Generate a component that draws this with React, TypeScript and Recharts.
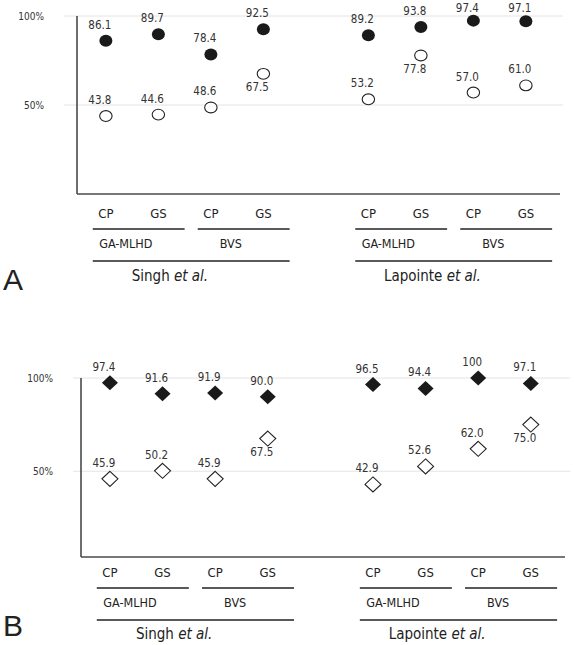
import React from "react";
import {
  ScatterChart,
  Scatter,
  XAxis,
  YAxis,
  ReferenceLine,
  ReferenceDot,
} from "recharts";

// study / method / measure hierarchy along the x axis
const studies = ["Singh", "Lapointe"];
const methods = ["GA-MLHD", "BVS"];
const measures = ["CP", "GS"];

// panel A (circles)
const panelAFilled = [86.1, 89.7, 78.4, 92.5, 89.2, 93.8, 97.4, 97.1];
const panelAOpen = [43.8, 44.6, 48.6, 67.5, 53.2, 77.8, 57.0, 61.0];

// panel B (diamonds)
const panelBFilled = [97.4, 91.6, 91.9, 90.0, 96.5, 94.4, 100, 97.1];
const panelBOpen = [45.9, 50.2, 45.9, 67.5, 42.9, 52.6, 62.0, 75.0];

const yTicks = [50, 100];

const FONT = "'DejaVu Sans Condensed', 'DejaVu Sans', sans-serif";
const INK = "#222";
const AXIS = "#4a4a4a";
const GRID = "#e4e4e4";
const X_AXIS_H = 30;

const perStudy = methods.length * measures.length;
// one empty slot between the two studies
const slotOf = (i: number) => i + 1 + Math.floor(i / perStudy);

const fmt = (v: number) => (v === 100 ? "100" : v.toFixed(1));

type Kind = "circle" | "diamond";

const makeShape = (kind: Kind, filled: boolean) => (props: any) => {
  const { cx, cy, payload } = props;
  if (cx == null || cy == null) return null;
  // open marker label goes below when it sits close to the filled one
  const below = !filled && payload.other - payload.y < 28;
  const ty = below ? cy + 17 : Math.max(cy - 12, 12);
  let mark;
  if (kind === "circle") {
    mark = filled ? (
      <ellipse cx={cx} cy={cy} rx={6.5} ry={6} fill="#1a1a1a" />
    ) : (
      <ellipse cx={cx} cy={cy} rx={6.2} ry={5.4} fill="#fff" stroke={INK} strokeWidth={1.1} />
    );
  } else {
    const pts = `${cx},${cy - 7.5} ${cx + 8},${cy} ${cx},${cy + 7.5} ${cx - 8},${cy}`;
    mark = filled ? (
      <polygon points={pts} fill="#1a1a1a" />
    ) : (
      <polygon points={pts} fill="#fff" stroke={INK} strokeWidth={1.1} />
    );
  }
  return (
    <g>
      {mark}
      <text
        x={cx - 6}
        y={ty}
        textAnchor="middle"
        fontSize={11.5}
        fontFamily={FONT}
        fill="#333"
      >
        {fmt(payload.y)}
      </text>
    </g>
  );
};

interface PanelProps {
  filled: number[];
  open: number[];
  kind: Kind;
  top: number;
  height: number;
  marginTop: number;
  marginBottom: number;
  marginRight: number;
  yAxisWidth: number;
  yMin: number;
  tickGap: number;
  gridFrom: number;
  gridTo: number;
  // px below the x axis: measure label, underline, method label, underline, study label
  rows: number[];
}

function Panel(p: PanelProps) {
  const filledData = p.filled.map((v, i) => ({ x: slotOf(i), y: v, other: p.open[i] }));
  const openData = p.open.map((v, i) => ({ x: slotOf(i), y: v, other: p.filled[i] }));
  const ticks = p.filled.map((_, i) => slotOf(i));

  const plotH = p.height - p.marginTop - p.marginBottom;
  const pxPerUnit = plotH / (100 - p.yMin);
  const toY = (off: number) => p.yMin - off / pxPerUnit;

  const lines: { x1: number; x2: number; y: number }[] = [];
  const labels: { x: number; y: number; text: string; italic?: boolean; size: number }[] = [];

  studies.forEach((s, si) => {
    methods.forEach((m, mi) => {
      const first = si * perStudy + mi * measures.length;
      const a = slotOf(first);
      const b = slotOf(first + measures.length - 1);
      lines.push({ x1: a - 0.25, x2: b + 0.5, y: toY(p.rows[1]) });
      labels.push({ x: (a + b) / 2 - 0.12, y: toY(p.rows[2]), text: m, size: 12.5 });
    });
    const a = slotOf(si * perStudy);
    const b = slotOf(si * perStudy + perStudy - 1);
    lines.push({ x1: a - 0.25, x2: b + 0.5, y: toY(p.rows[3]) });
    labels.push({ x: (a + b) / 2 - 0.28, y: toY(p.rows[4]), text: s, italic: true, size: 15 });
  });

  const MeasureTick = (tp: any) => {
    const i = ticks.indexOf(tp.payload.value);
    return (
      <text
        x={tp.x}
        y={tp.y + p.rows[0] + 4.7}
        textAnchor="middle"
        fontSize={13}
        fontFamily={FONT}
        fill={INK}
      >
        {measures[i % measures.length]}
      </text>
    );
  };

  return (
    <div style={{ position: "absolute", left: 0, top: p.top }}>
      <ScatterChart
        width={574}
        height={p.height}
        margin={{
          top: p.marginTop,
          right: p.marginRight,
          bottom: p.marginBottom - X_AXIS_H,
          left: 0,
        }}
      >
        {yTicks.map((t) => (
          <ReferenceLine
            key={t}
            segment={[
              { x: p.gridFrom, y: t },
              { x: p.gridTo, y: t },
            ]}
            stroke={GRID}
            strokeWidth={1}
            ifOverflow="visible"
          />
        ))}
        <XAxis
          type="number"
          dataKey="x"
          domain={[0.45, 9.65]}
          ticks={ticks}
          tick={MeasureTick}
          tickLine={false}
          tickSize={0}
          tickMargin={0}
          height={X_AXIS_H}
          stroke={AXIS}
          strokeWidth={1.6}
        />
        <YAxis
          type="number"
          dataKey="y"
          domain={[p.yMin, 100]}
          ticks={yTicks}
          tickFormatter={(v) => `${v}%`}
          tick={{ fontSize: 10, fontFamily: FONT, fill: "#333" }}
          tickLine={false}
          tickSize={0}
          tickMargin={p.tickGap}
          width={p.yAxisWidth}
          stroke={AXIS}
          strokeWidth={1.6}
        />
        {lines.map((l, i) => (
          <ReferenceLine
            key={"l" + i}
            segment={[
              { x: l.x1, y: l.y },
              { x: l.x2, y: l.y },
            ]}
            stroke={INK}
            strokeWidth={1.5}
            ifOverflow="visible"
          />
        ))}
        {labels.map((l, i) => (
          <ReferenceDot
            key={"t" + i}
            x={l.x}
            y={l.y}
            r={0}
            ifOverflow="visible"
            shape={(sp: any) => (
              <text
                x={sp.cx}
                y={sp.cy + l.size * 0.36}
                textAnchor="middle"
                fontSize={l.size}
                fontFamily={FONT}
                fill={INK}
              >
                {l.text}
                {l.italic && <tspan fontStyle="italic"> et al.</tspan>}
              </text>
            )}
          />
        ))}
        <Scatter
          data={openData}
          shape={makeShape(p.kind, false)}
          isAnimationActive={false}
        />
        <Scatter
          data={filledData}
          shape={makeShape(p.kind, true)}
          isAnimationActive={false}
        />
      </ScatterChart>
    </div>
  );
}

export default function App() {
  return (
    <div
      style={{
        position: "absolute",
        left: 0,
        top: 0,
        width: 574,
        height: 645,
        background: "#fff",
        overflow: "hidden",
      }}
    >
      <Panel
        filled={panelAFilled}
        open={panelAOpen}
        kind="circle"
        top={0}
        height={300}
        marginTop={16}
        marginBottom={106}
        marginRight={14}
        yAxisWidth={77}
        yMin={0}
        tickGap={33}
        gridFrom={0.2}
        gridTo={9.71}
        rows={[19, 35, 49, 67, 82]}
      />
      <Panel
        filled={panelBFilled}
        open={panelBOpen}
        kind="diamond"
        top={330}
        height={315}
        marginTop={48}
        marginBottom={88}
        marginRight={9}
        yAxisWidth={81}
        yMin={4}
        tickGap={28}
        gridFrom={0.3}
        gridTo={9.75}
        rows={[15, 31, 45, 63, 76.5]}
      />
      <svg
        width={574}
        height={645}
        style={{ position: "absolute", left: 0, top: 0, pointerEvents: "none" }}
      >
        <text x={3} y={290} fontSize={30} fontFamily="'Liberation Sans', Arial, sans-serif" fill={INK}>
          A
        </text>
        <text x={3} y={636} fontSize={30} fontFamily="'Liberation Sans', Arial, sans-serif" fill={INK}>
          B
        </text>
      </svg>
    </div>
  );
}
